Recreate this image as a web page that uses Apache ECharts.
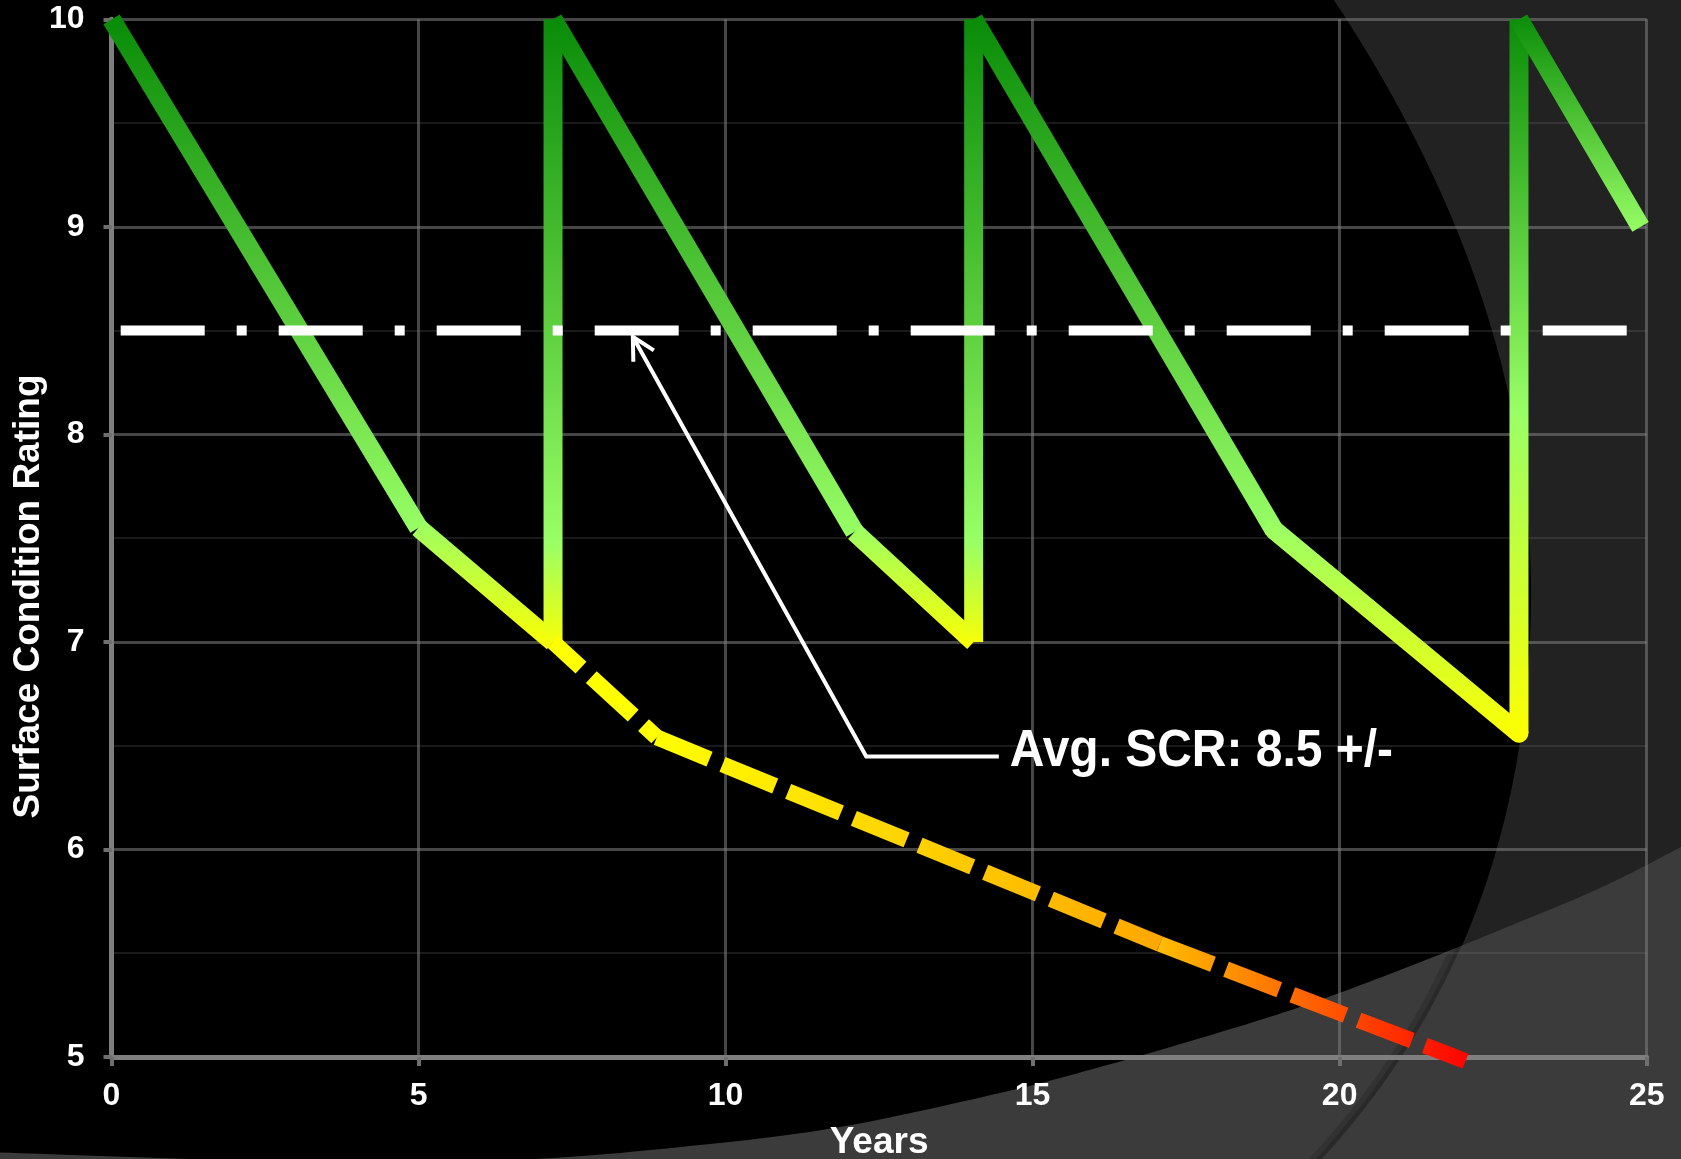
<!DOCTYPE html>
<html>
<head>
<meta charset="utf-8">
<title>Surface Condition Rating</title>
<style>
  html, body { margin: 0; padding: 0; background: #222222; }
  #chart { width: 1681px; height: 1159px; }
</style>
<script src="https://cdn.jsdelivr.net/npm/echarts@6/dist/echarts.min.js"></script>
</head>
<body>
<div id="chart"></div>
<script>
// Maintained pavement: wear, then a treatment brings the rating back to 10.
const wearYears   = [0, 5.0, 7.19, 7.19, 12.1, 14.04, 14.04, 18.93, 22.92, 22.92, 24.9];
const wearRatings = [10, 7.55, 7.0, 10, 7.53, 7.0, 10, 7.54, 6.56, 10, 9.0];

// Untreated pavement after the first cycle keeps declining.
const deferYears   = [7.19, 8.88, 17.07, 22.05];
const deferRatings = [7.0, 6.54, 5.545, 4.98];

// Average surface condition target.
const avgRating = 8.5;
const avgLabel = 'Avg. SCR: 8.5 +/-';

// Leader from the label to the average line.
const leaderYears   = [8.49, 12.29, 14.45];
const leaderRatings = [8.47, 6.448, 6.448];

const xTickValues = [0, 5, 10, 15, 20, 25];
const yTickValues = [5, 6, 7, 8, 9, 10];

// ---------------------------------------------------------------------------
const FONT = '"Liberation Sans", Arial, Helvetica, sans-serif';
const GREEN_DARK = '#078a07';
const GREEN_LIGHT = '#99ff66';
const YELLOW = '#ffff00';

// Kind of each wear segment: falling from new, easing into the trough, renewal jump.
const segmentKinds = ['fall', 'ease', 'renew', 'fall', 'ease', 'renew', 'fall', 'ease', 'renew', 'fall'];
const renewLightStops = [0.83, 0.83, 0.55];

function grad(x2, y2, stops) {
  return new echarts.graphic.LinearGradient(0, 0, x2, y2,
    stops.map(function (s) { return { offset: s[0], color: s[1] }; }));
}

function wearColor(kind, renewIndex) {
  if (kind === 'fall') return grad(0, 1, [[0, GREEN_DARK], [1, GREEN_LIGHT]]);
  if (kind === 'ease') return grad(0, 1, [[0, GREEN_LIGHT], [1, YELLOW]]);
  const p = renewLightStops[renewIndex];
  return grad(0, 1, [[0, GREEN_DARK], [p, GREEN_LIGHT], [1, YELLOW]]);
}

const deferColors = [
  [[0, '#ffff00'], [1, '#ffff00']],
  [[0, '#ffff00'], [1, '#ffa600']],
  [[0, '#ffc000'], [1, '#ff0000']]
];
const deferDashOffset = [19, 0, 0];

const series = [];
let renewIndex = 0;
for (let i = 0; i < wearYears.length - 1; i++) {
  const kind = segmentKinds[i];
  const color = wearColor(kind, renewIndex);
  if (kind === 'renew') renewIndex++;
  series.push({
    type: 'line',
    name: 'wear-' + i,
    data: [[wearYears[i], wearRatings[i]], [wearYears[i + 1], wearRatings[i + 1]]],
    symbol: 'none',
    clip: false,
    silent: true,
    animation: false,
    z: 3,
    lineStyle: {
      width: 19,
      color: color,
      cap: (i === 7) ? 'round' : 'butt',
      join: 'round'
    }
  });
}

for (let i = 0; i < deferYears.length - 1; i++) {
  series.push({
    type: 'line',
    name: 'defer-' + i,
    data: [[deferYears[i], deferRatings[i]], [deferYears[i + 1], deferRatings[i + 1]]],
    symbol: 'none',
    clip: false,
    silent: true,
    animation: false,
    z: 4,
    lineStyle: {
      width: 16,
      color: grad(1, 0, deferColors[i]),
      type: [57, 14],
      dashOffset: deferDashOffset[i],
      cap: 'butt'
    }
  });
}

// Average line, dash-dot
series.push({
  type: 'line',
  name: 'average',
  data: [[xTickValues[0], avgRating], [xTickValues[xTickValues.length - 1], avgRating]],
  symbol: 'none',
  clip: false,
  silent: true,
  animation: false,
  z: 5,
  lineStyle: { width: 10, color: '#ffffff', type: [84, 32, 10, 32], dashOffset: 148.8, cap: 'butt' }
});

// Leader line to the label
series.push({
  type: 'line',
  name: 'leader',
  data: leaderYears.map(function (x, i) { return [x, leaderRatings[i]]; }),
  symbol: 'none',
  clip: false,
  silent: true,
  animation: false,
  z: 6,
  lineStyle: { width: 4, color: '#ffffff', join: 'miter', cap: 'butt' }
});

const axisGray = '#7f7f7f';
const gridGray = 'rgba(128,128,128,0.55)';

const option = {
  backgroundColor: '#222222',
  animation: false,
  grid: {
    left: 111.5, right: 34.3, top: 19.3, bottom: 102,
    containLabel: false,
    outerBoundsMode: 'none'
  },
  xAxis: {
    type: 'value',
    min: xTickValues[0],
    max: xTickValues[xTickValues.length - 1],
    interval: xTickValues[1] - xTickValues[0],
    name: 'Years',
    nameLocation: 'middle',
    nameGap: 67,
    nameTextStyle: { color: '#ffffff', fontSize: 37, fontWeight: 'bold', fontFamily: FONT },
    axisLine: { show: true, onZero: false, lineStyle: { color: axisGray, width: 5 } },
    axisTick: { show: true, inside: false, length: 9, lineStyle: { color: '#6f6f6f', width: 4 } },
    axisLabel: { color: '#ffffff', fontSize: 32, fontWeight: 'bold', fontFamily: FONT, margin: 23 },
    splitLine: { show: true, lineStyle: { color: gridGray, width: 3 } }
  },
  yAxis: {
    type: 'value',
    min: yTickValues[0],
    max: yTickValues[yTickValues.length - 1],
    interval: yTickValues[1] - yTickValues[0],
    axisLine: { show: true, onZero: false, lineStyle: { color: axisGray, width: 5 } },
    axisTick: { show: true, inside: false, length: 8, lineStyle: { color: '#6f6f6f', width: 4 } },
    axisLabel: { color: '#ffffff', fontSize: 32, fontWeight: 'bold', fontFamily: FONT, margin: 27 },
    splitLine: { show: true, lineStyle: { color: gridGray, width: 3 } },
    minorTick: { show: false, splitNumber: 2 },
    minorSplitLine: { show: true, lineStyle: { color: 'rgba(128,128,128,0.2)', width: 2 } }
  },
  series: series
};

const chart = echarts.init(document.getElementById('chart'), null, { renderer: 'canvas' });
chart.setOption(option);

// ---------------------------------------------------------------------------
// Backdrop: black oval on the left, dark panel on the right, lighter swoosh below.
function catmullRom(pts, steps) {
  const out = [];
  for (let i = 0; i < pts.length - 1; i++) {
    const p0 = pts[Math.max(i - 1, 0)], p1 = pts[i], p2 = pts[i + 1], p3 = pts[Math.min(i + 2, pts.length - 1)];
    for (let s = 0; s < steps; s++) {
      const t = s / steps, t2 = t * t, t3 = t2 * t;
      out.push([0, 1].map(function (k) {
        return 0.5 * ((2 * p1[k]) + (-p0[k] + p2[k]) * t +
          (2 * p0[k] - 5 * p1[k] + 4 * p2[k] - p3[k]) * t2 +
          (-p0[k] + 3 * p1[k] - 3 * p2[k] + p3[k]) * t3);
      }));
    }
  }
  out.push(pts[pts.length - 1]);
  return out;
}

// Right edge of the black oval: widest at y = 595, bending back towards top and bottom.
const OVAL_X = 1531, OVAL_Y = 595;
const ovalCurve = [];
for (let y = -60; y <= 1230; y += 8) {
  const d = y - OVAL_Y;
  const inset = d < 0 ? 5.57e-4 * d * d : 5.0e-4 * d * d + 4.98e-10 * d * d * d * d;
  ovalCurve.push([OVAL_X - inset, y]);
}

const swooshEdge = [[-60, 1151], [0, 1152.5], [160, 1158], [350, 1163], [535, 1159], [700, 1145],
  [840, 1127], [1000, 1093], [1100, 1067], [1194, 1040], [1300, 1007], [1400, 970],
  [1500, 930], [1600, 888], [1681, 847], [1800, 785]];
const swooshCurve = catmullRom(swooshEdge, 12);

const backdrop = [
  {
    type: 'polygon', silent: true, z: -100,
    shape: { points: [[-60, -60]].concat(ovalCurve, [[-60, 1230]]) },
    style: { fill: '#000000' }
  },
  {
    type: 'polygon', silent: true, z: -99,
    shape: { points: swooshCurve.concat([[1800, 1300], [-60, 1300]]) },
    style: { fill: '#3b3b3b' }
  },
  {
    type: 'polyline', silent: true, z: -98,
    shape: { points: ovalCurve.map(function (p) { return [p[0] - 6, p[1]]; }) },
    style: { fill: 'none', stroke: 'rgba(0,0,0,0.14)', lineWidth: 10 }
  },
  {
    type: 'polyline', silent: true, z: -97,
    shape: { points: ovalCurve.map(function (p) { return [p[0] - 3, p[1]]; }) },
    style: { fill: 'none', stroke: 'rgba(0,0,0,0.16)', lineWidth: 4 }
  }
];

// Annotation: open arrowhead at the average line, label after the leader.
const tip = chart.convertToPixel({ gridIndex: 0 }, [leaderYears[0], leaderRatings[0]]);
const bend = chart.convertToPixel({ gridIndex: 0 }, [leaderYears[1], leaderRatings[1]]);
const tail = chart.convertToPixel({ gridIndex: 0 }, [leaderYears[2], leaderRatings[2]]);
const back = Math.atan2(bend[1] - tip[1], bend[0] - tip[0]);
const armLen = 25, armAngle = 28 * Math.PI / 180;
const arm1 = [tip[0] + armLen * Math.cos(back - armAngle), tip[1] + armLen * Math.sin(back - armAngle)];
const arm2 = [tip[0] + armLen * Math.cos(back + armAngle), tip[1] + armLen * Math.sin(back + armAngle)];

const annotation = [
  {
    type: 'polyline', silent: true, z: 20,
    shape: { points: [arm1, tip, arm2] },
    style: { stroke: '#ffffff', lineWidth: 4, fill: 'none', lineJoin: 'miter' }
  },
  {
    type: 'text', silent: true, z: 20,
    x: tail[0] + 11, y: tail[1] - 5, scaleX: 0.94,
    style: {
      text: avgLabel, x: 0, y: 0,
      fill: '#ffffff',
      font: 'bold 51px ' + FONT,
      align: 'left', verticalAlign: 'middle',
      textAlign: 'left', textVerticalAlign: 'middle'
    }
  },
  {
    type: 'text', silent: true, z: 20,
    x: 28.5, y: 596.5, rotation: Math.PI / 2,
    style: {
      text: 'Surface Condition Rating', x: 0, y: 0,
      fill: '#ffffff',
      font: 'bold 37px ' + FONT,
      align: 'center', verticalAlign: 'middle',
      textAlign: 'center', textVerticalAlign: 'middle'
    }
  }
];

chart.setOption({ graphic: { elements: backdrop.concat(annotation) } });
</script>
</body>
</html>
